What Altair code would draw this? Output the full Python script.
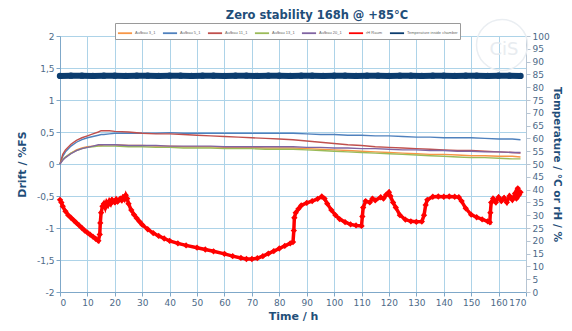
import altair as alt
import pandas as pd

# ---------------- data ----------------
drift_t = [0, 1, 2, 4, 6, 8, 10, 12, 14, 15, 16, 18, 20, 25, 30, 35, 40, 45, 50, 55, 60, 65,
           70, 75, 80, 85, 90, 95, 100, 105, 110, 115, 120, 125, 130, 135, 140, 145, 150, 155,
           160, 165, 168]
aufbau_3 = [0, .07, .11, .17, .22, .25, .27, .28, .29, .29, .30, .30, .30, .29, .29, .28, .28, .27,
            .27, .27, .26, .26, .26, .25, .25, .25, .24, .23, .22, .21, .20, .19, .18, .17, .16,
            .15, .15, .14, .13, .13, .12, .12, .11]
aufbau_5 = [0, .12, .19, .28, .34, .38, .41, .43, .45, .46, .46, .47, .48, .48, .48, .48, .49, .48,
            .48, .48, .48, .48, .48, .48, .48, .48, .47, .46, .46, .45, .45, .44, .44, .43, .42,
            .42, .41, .41, .41, .40, .39, .39, .38]
aufbau_11 = [0, .15, .22, .31, .37, .41, .44, .47, .50, .52, .52, .52, .51, .50, .48, .47, .47, .46,
             .45, .44, .43, .42, .41, .40, .39, .38, .36, .34, .32, .30, .29, .27, .26, .25, .24,
             .23, .22, .21, .21, .20, .19, .18, .17]
aufbau_13 = [0, .07, .11, .17, .21, .24, .26, .27, .28, .28, .28, .28, .28, .27, .27, .26, .26, .25,
             .25, .25, .24, .24, .24, .23, .23, .23, .22, .21, .20, .19, .18, .17, .16, .15, .14,
             .13, .12, .11, .10, .10, .09, .08, .08]
aufbau_20 = [0, .06, .10, .16, .21, .24, .26, .28, .30, .30, .30, .30, .30, .29, .29, .29, .28, .28,
             .28, .28, .27, .27, .27, .27, .27, .27, .26, .26, .25, .25, .24, .24, .23, .22, .22,
             .21, .21, .20, .20, .19, .19, .18, .18]

rh_t = [0, 0.5, 1, 2, 3, 4, 5, 6, 7, 8, 9, 10, 11, 12, 13, 14, 14.5, 14.7, 15, 15.5, 16, 16.5,
        17, 17.5, 18, 18.5, 19, 20, 20.5, 21, 22, 22.5, 23, 23.5, 24, 24.5, 25, 26, 27, 28, 29,
        30, 32, 34, 36, 38, 40, 43, 46, 50, 53, 56, 60, 63, 66, 68, 70, 72, 74, 76, 78, 80, 82,
        84, 85, 85.3, 85.5, 86, 87, 88, 90, 92, 94, 95.5, 96.5, 97.5, 99, 100.5, 102, 104, 106,
        108, 110, 110.3, 110.6, 111.5, 113, 114, 115, 117, 118, 119, 120, 120.5, 121.5, 122.5,
        124, 126, 128, 130, 132, 132.8, 133.4, 134, 136, 138, 140, 142, 144, 145.5, 146.5, 148,
        150, 152, 154, 156, 156.8, 157, 157.3, 158, 159, 160, 161, 162, 163, 164, 165, 166,
        166.5, 167, 167.5, 168]
rh_v = [36.0, 35.0, 33.5, 31.5, 30.0, 29.0, 28.0, 27.0, 26.0, 25.0, 24.0, 23.2, 22.4, 21.6, 20.8,
        20.0, 22.5, 27.0, 31.0, 33.5, 34.5, 33.0, 35.0, 34.0, 35.5, 34.5, 36.0, 35.0, 36.2, 35.3,
        36.5, 35.8, 37.0, 36.2, 37.8, 36.5, 34.5, 32.0, 30.2, 28.8, 27.5, 26.3, 24.5, 23.0, 21.9,
        20.9, 20.0, 19.0, 18.2, 17.3, 16.6, 15.9, 14.9, 14.0, 13.3, 12.9, 12.9, 13.2, 14.0, 15.0,
        16.0, 17.0, 18.0, 19.0, 19.5, 24.0, 29.0, 31.0, 32.5, 33.8, 34.8, 35.5, 36.4, 37.3, 36.5,
        34.5, 32.0, 30.0, 28.5, 27.3, 26.4, 26.0, 25.8, 29.5, 33.0, 35.5, 35.0, 36.5, 35.8, 37.0,
        36.5, 38.0, 39.0, 37.5, 35.0, 33.0, 30.0, 28.3, 27.6, 27.4, 27.5, 30.0, 34.0, 36.0, 37.2,
        37.3, 37.2, 37.3, 37.2, 37.0, 35.5, 32.7, 30.2, 29.2, 28.4, 27.6, 27.2, 31.0, 35.0, 36.5,
        35.0, 37.0, 35.5, 36.8, 35.0, 37.5, 36.0, 38.5, 36.5, 40.5, 38.0, 39.0]

temp_t = [0, 4, 8, 12, 16, 20, 24, 28, 32, 36, 40, 44, 48, 52, 56, 60, 64, 68, 72, 76, 80, 84,
          88, 92, 96, 100, 104, 108, 112, 116, 120, 124, 128, 132, 136, 140, 144, 148, 152, 156,
          160, 164, 168]
temp_v = [84.4, 84.5, 84.5, 84.4, 84.5, 84.5, 84.4, 84.5, 84.5, 84.4, 84.5, 84.5, 84.4, 84.5,
          84.5, 84.4, 84.5, 84.5, 84.4, 84.5, 84.5, 84.4, 84.5, 84.5, 84.4, 84.5, 84.5, 84.4, 84.5,
          84.5, 84.4, 84.5, 84.5, 84.4, 84.5, 84.5, 84.4, 84.5, 84.5, 84.4, 84.5, 84.5, 84.4]

series_names = ["Aufbau 3_1", "Aufbau 5_1", "Aufbau 11_1", "Aufbau 13_1", "Aufbau 20_1",
                "rH Raum", "Temperature inside chamber"]
series_colors = ["#f79646", "#4f81bd", "#c0504d", "#9bbb59", "#8064a2", "#ff0000", "#0b3c6e"]
drift_series = [aufbau_3, aufbau_5, aufbau_11, aufbau_13, aufbau_20]

left_ticks = [-2, -1.5, -1, -0.5, 0, 0.5, 1, 1.5, 2]
right_ticks = list(range(0, 101, 5))
x_ticks = list(range(0, 171, 10))

# ---------------- tables ----------------
drift_df = pd.concat(
    [pd.DataFrame({"t": drift_t, "v": vals, "s": name})
     for name, vals in zip(series_names[:5], drift_series)],
    ignore_index=True)
rh_df = pd.DataFrame({"t": rh_t, "v": rh_v, "s": series_names[5]})
temp_df = pd.DataFrame({"t": temp_t, "v": temp_v, "s": series_names[6]})

FONT = "DejaVu Sans"
LABEL_COLOR = "#4d6a88"
TITLE_COLOR = "#1f4e79"
AXIS_COLOR = "#7fa8c9"
GRID_COLOR = "#add3e8"

color = alt.Color(
    "s:N",
    scale=alt.Scale(domain=series_names, range=series_colors),
    legend=alt.Legend(
        orient="none", legendX=55, legendY=-13, direction="horizontal", title=None,
        labelFontSize=4, labelColor="#666666", symbolType="stroke", symbolSize=200,
        symbolStrokeWidth=1.8, strokeColor="#9a9a9a", padding=2, columnPadding=3,
        labelOffset=2, labelLimit=200, fillColor="white"),
)

x = alt.X(
    "t:Q",
    scale=alt.Scale(domain=[0, 170], nice=False),
    axis=alt.Axis(values=x_ticks, title="Time / h", labelFontSize=9, labelColor=LABEL_COLOR,
                  labelFont=FONT, titleFont=FONT, titleFontSize=11, titleColor=TITLE_COLOR,
                  titleFontWeight="bold", titlePadding=3, domainColor=AXIS_COLOR,
                  tickColor=AXIS_COLOR, tickSize=4, gridColor=GRID_COLOR, gridWidth=1,
                  labelPadding=2),
)

y_left = alt.Y(
    "v:Q",
    scale=alt.Scale(domain=[-2, 2], nice=False),
    axis=alt.Axis(values=left_ticks, title="Drift / %FS",
                  labelExpr="replace(toString(datum.value), '.', ',')",
                  labelFontSize=9, labelColor=LABEL_COLOR, labelFont=FONT, titleFont=FONT,
                  titleFontSize=11, titleColor=TITLE_COLOR, titleFontWeight="bold",
                  titlePadding=9, domainColor=AXIS_COLOR, tickColor=AXIS_COLOR, tickSize=4,
                  gridColor=GRID_COLOR, gridWidth=1),
)

y_right = alt.Y(
    "v:Q",
    scale=alt.Scale(domain=[0, 100], nice=False),
    axis=alt.Axis(orient="right", values=right_ticks, title="Temperature / °C or rH / %",
                  labelFontSize=9, labelColor=LABEL_COLOR, labelFont=FONT, titleFont=FONT,
                  titleFontSize=10.5, titleColor=TITLE_COLOR, titleFontWeight="bold",
                  titlePadding=2, domainColor="#b7c5d3", tickColor="#b7c5d3", tickSize=4,
                  grid=False),
)

drift_lines = alt.Chart(drift_df).mark_line(strokeWidth=1.4).encode(x=x, y=y_left, color=color)

rh_line = alt.Chart(rh_df).mark_line(strokeWidth=3.5).encode(x=x, y=y_right, color=color)
rh_pts = alt.Chart(rh_df).mark_point(shape="diamond", filled=True, size=40, opacity=1).encode(
    x=x, y=y_right, color=color)
temp_line = alt.Chart(temp_df).mark_line(strokeWidth=6).encode(x=x, y=y_right, color=color)
temp_pts = alt.Chart(temp_df).mark_point(shape="circle", filled=True, size=40, opacity=1).encode(
    x=x, y=y_right, color=color)

right_layer = alt.layer(rh_line, rh_pts, temp_line, temp_pts)

logo_df = pd.DataFrame({"txt": ["CiS"]})
logo_ring = alt.Chart(logo_df).mark_point(
    shape="circle", size=2600, filled=False, color="#eaeef2", strokeWidth=1.5, opacity=1
).encode(x=alt.value(442), y=alt.value(9))
logo_text = alt.Chart(logo_df).mark_text(
    fontSize=18, font=FONT, color="#e8ecf0", align="center", baseline="middle"
).encode(x=alt.value(444), y=alt.value(14), text="txt:N")

chart = alt.layer(
    logo_ring, logo_text, drift_lines, right_layer
).resolve_scale(y="independent").properties(
    width=466,
    height=256,
    autosize=alt.AutoSizeParams(type="none"),
    padding={"left": 52, "top": 28, "right": 38, "bottom": 31},
    title=alt.TitleParams("Zero stability 168h @ +85°C", fontSize=11.5, fontWeight="bold",
                          color=TITLE_COLOR, font=FONT, dx=24, offset=-5),
).configure_view(stroke=None).configure(background="white")

chart.save("out.html", embed_options={"renderer": "svg", "actions": False})
